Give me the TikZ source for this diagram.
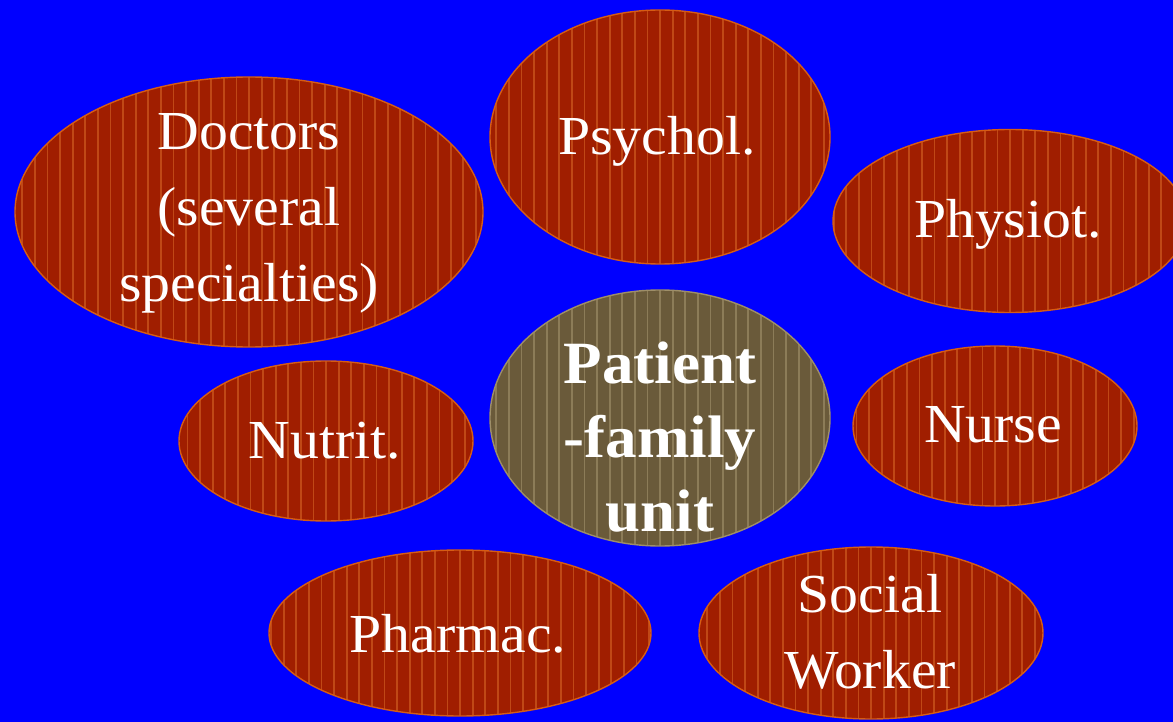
\documentclass[tikz,border=0pt]{standalone}
\usepackage{fontspec}
\setmainfont{Liberation Serif}[FakeStretch=1.05]
\usetikzlibrary{shapes.geometric}
\definecolor{bgblue}{RGB}{0,0,255}
\definecolor{redfill}{RGB}{160,30,0}
\definecolor{redstripe}{RGB}{192,72,22}
\definecolor{rededge}{RGB}{214,92,20}
\definecolor{brownfill}{RGB}{106,90,58}
\definecolor{brownstripe}{RGB}{140,124,88}
\definecolor{brownedge}{RGB}{158,142,104}
\tikzset{
  x=1pt, y=-1pt,
  stripes/.style={path picture={
      \foreach \k in {-40,...,40}
        \draw[#1, line width=1.8pt]
          ([xshift=\k*12.6pt]path picture bounding box.south) --
          ([xshift=\k*12.6pt]path picture bounding box.north);}},
  redoval/.style={ellipse, inner sep=0pt, fill=redfill, draw=rededge,
      line width=1.4pt, stripes=redstripe},
  brownoval/.style={ellipse, inner sep=0pt, fill=brownfill, draw=brownedge,
      line width=1.4pt, stripes=brownstripe},
  lbl/.style={text=white, inner sep=0pt, align=center,
      font=\fontsize{55}{76}\selectfont},
  blbl/.style={text=white, inner sep=0pt, align=center,
      font=\fontsize{60}{74}\selectfont\bfseries},
}
\begin{document}
\begin{tikzpicture}
\fill[bgblue] (0,0) rectangle (1173,722);
\path[use as bounding box] (0,0) rectangle (1173,722);
\begin{scope}
\clip (0,0) rectangle (1173,722);
% ellipses
\node[redoval, minimum width=468pt, minimum height=270pt] (docE) at (249,212) {};
\node[redoval, minimum width=340pt, minimum height=254pt] (psyE) at (660,137) {};
\node[redoval, minimum width=354pt, minimum height=183pt] (phyE) at (1010,221) {};
\node[redoval, minimum width=294pt, minimum height=160pt] (nutE) at (326,441) {};
\node[brownoval, minimum width=340pt, minimum height=256pt] (patE) at (660,418) {};
\node[redoval, minimum width=284pt, minimum height=160pt] (nurE) at (995,426) {};
\node[redoval, minimum width=382pt, minimum height=166pt] (phaE) at (460,633) {};
\node[redoval, minimum width=344pt, minimum height=172pt] (socE) at (871,633) {};
\end{scope}
% texts
\node[lbl] (docT) at (249,213) {Doctors\\(several\\specialties)};
\node[lbl, anchor=base] (psyT) at (657,155) {Psychol.};
\node[lbl, anchor=base] (phyT) at (1008,238) {Physiot.};
\node[lbl, anchor=base] (nutT) at (325,458) {Nutrit.};
\node[lbl, anchor=base] (nurT) at (993,442) {Nurse};
\node[lbl, anchor=base] (phaT) at (458,652) {Pharmac.};
\node[lbl] (socT) at (870,632) {Social\\Worker};
\node[blbl] (patT) at (660,437) {Patient\\-family\\unit};
\end{tikzpicture}
\end{document}
